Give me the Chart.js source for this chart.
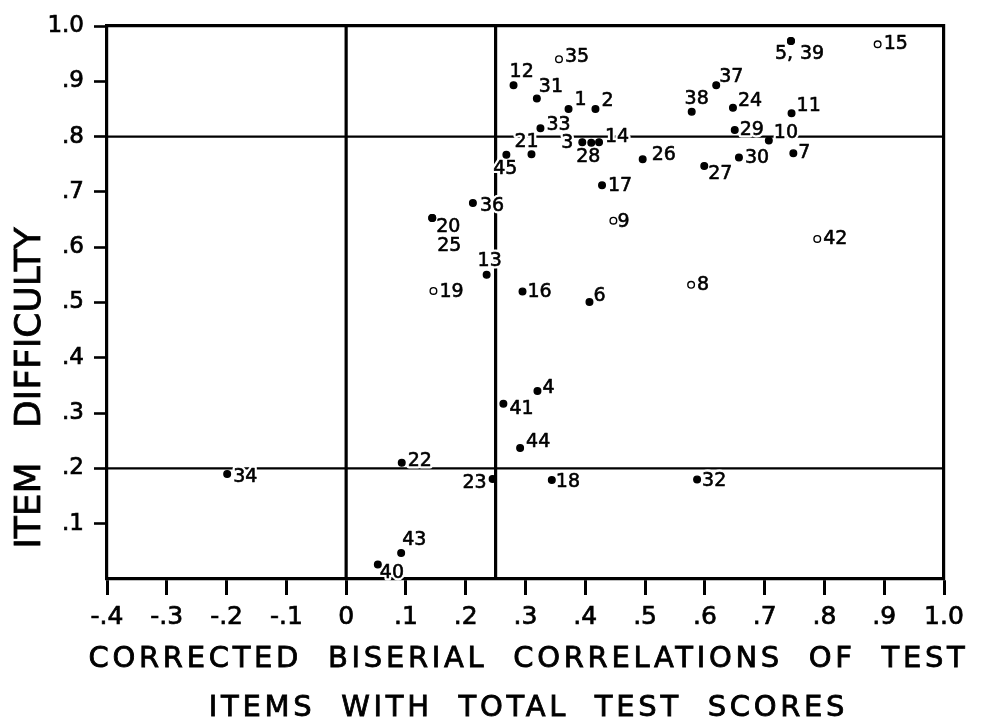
<!DOCTYPE html>
<html>
<head>
<meta charset="utf-8">
<script src="https://cdn.jsdelivr.net/npm/chart.js@4/dist/chart.umd.min.js"></script>
<style>
  html, body { margin: 0; padding: 0; background: #fff; overflow: hidden; }
  #wrap { width: 984px; height: 719px; }
</style>
</head>
<body>
<div id="wrap"><canvas id="c" width="984" height="719"></canvas></div>
<script>
// ---- data ----
const itemNumbers = [1,2,3,4,5,6,7,8,9,10,11,12,13,14,15,16,17,18,19,20,21,22,23,24,25,26,27,28,29,30,31,32,33,34,35,36,37,38,39,40,41,42,43,44,45];
const correlations = [0.372,0.417,0.395,0.320,0.744,0.407,0.748,0.577,0.447,0.707,0.745,0.280,0.235,0.423,0.889,0.295,0.428,0.344,0.146,0.144,0.310,0.093,0.245,0.647,0.144,0.496,0.599,0.410,0.650,0.657,0.319,0.587,0.325,-0.199,0.356,0.212,0.619,0.578,0.744,0.053,0.263,0.788,0.092,0.291,0.268];
const difficulties = [0.850,0.850,0.790,0.340,0.973,0.501,0.770,0.532,0.648,0.793,0.842,0.893,0.550,0.790,0.967,0.520,0.712,0.179,0.521,0.653,0.768,0.210,0.181,0.852,0.653,0.759,0.747,0.789,0.812,0.762,0.869,0.180,0.815,0.190,0.940,0.680,0.893,0.845,0.973,0.026,0.317,0.615,0.047,0.237,0.767];
const openCircleItems = [35,15,19,42,8,9];
const xRange = [-0.4, 1.0];
const yRange = [0, 1.0];
const xTickValues = [-0.4,-0.3,-0.2,-0.1,0,0.1,0.2,0.3,0.4,0.5,0.6,0.7,0.8,0.9,1.0];
const xTickLabels = ['-.4','-.3','-.2','-.1','0','.1','.2','.3','.4','.5','.6','.7','.8','.9','1.0'];
const yTickValues = [0.1,0.2,0.3,0.4,0.5,0.6,0.7,0.8,0.9,1.0];
const yTickLabels = ['.1','.2','.3','.4','.5','.6','.7','.8','.9','1.0'];
const refXValues = [0, 0.25];
const refYValues = [0.2, 0.8];
const xTitle = ['CORRECTED  BISERIAL  CORRELATIONS  OF  TEST', 'ITEMS  WITH  TOTAL  TEST  SCORES'];
const yTitle = 'ITEM   DIFFICULTY';

// ---- label placement (style only): [dx, dy, align] ----
const labelPlacement = {
  1:[6,-9,'l'], 2:[6,-8,'l'], 3:[-9,1,'r'], 4:[5,-3,'l'], 5:[-7,13,'c'], 6:[4,-6,'l'],
  7:[5,0,'l'], 8:[6,0,'l'], 9:[4,1,'l'], 10:[5,-7,'l'], 11:[5,-7,'l'], 12:[-4,-13,'l'],
  13:[3,-14,'c'], 14:[6,-5,'l'], 15:[6,0,'l'], 16:[5,1,'l'], 17:[6,1,'l'], 18:[4,2,'l'],
  19:[6,1,'l'], 20:[4,9,'l'], 21:[-5,-12,'c'], 22:[6,-2,'l'], 23:[-6,4,'r'], 24:[5,-7,'l'],
  25:[5,28,'l'], 26:[9,-4,'l'], 27:[4,8,'l'], 28:[-3,14,'c'], 29:[5,0,'l'], 30:[6,0,'l'],
  31:[2,-11,'l'], 32:[5,2,'l'], 33:[6,-3,'l'], 34:[6,3,'l'], 35:[6,-2,'l'], 36:[7,3,'l'],
  37:[3,-8,'l'], 38:[5,-13,'c'], 39:[9,13,'l'], 40:[2,8,'l'], 41:[6,5,'l'], 42:[6,0,'l'],
  43:[1,-13,'l'], 44:[6,-6,'l'], 45:[-1,14,'c']
};
const labelTextOverride = { 5: '5,' };

const FONT = '"DejaVu Sans", "Liberation Sans", sans-serif';

const points = itemNumbers.map((n, i) => ({ x: correlations[i], y: difficulties[i] }));
const pointFill = itemNumbers.map(n => openCircleItems.includes(n) ? '#fff' : '#000');

const refDatasets = [];
refXValues.forEach(v => refDatasets.push({
  type: 'scatter', showLine: true, data: [{x: v, y: yRange[0]}, {x: v, y: yRange[1]}],
  borderColor: '#000', borderWidth: 3.2, pointRadius: 0, order: 2, clip: false
}));
refYValues.forEach(v => refDatasets.push({
  type: 'scatter', showLine: true, data: [{x: xRange[0], y: v}, {x: xRange[1], y: v}],
  borderColor: '#000', borderWidth: 2.4, pointRadius: 0, order: 2, clip: false
}));

const labelPlugin = {
  id: 'itemLabels',
  beforeDatasetDraw(chart, args) {
    if (args.index !== 0) return;
    const ctx = chart.ctx;
    ctx.save();
    ctx.font = '19px ' + FONT;
    ctx.textBaseline = 'middle';
    ctx.lineJoin = 'round';
    args.meta.data.forEach((pt, i) => {
      const item = itemNumbers[i];
      const pl = labelPlacement[item] || [6, 0, 'l'];
      const text = labelTextOverride[item] || String(item);
      ctx.textAlign = pl[2] === 'l' ? 'left' : (pl[2] === 'r' ? 'right' : 'center');
      const x = pt.x + pl[0], y = pt.y + pl[1];
      ctx.strokeStyle = '#fff';
      ctx.lineWidth = 5;
      ctx.strokeText(text, x, y);
      ctx.fillStyle = '#000';
      ctx.fillText(text, x, y);
      ctx.strokeStyle = '#000';
      ctx.lineWidth = 0.6;
      ctx.strokeText(text, x, y);
    });
    ctx.restore();
  }
};

const titlePlugin = {
  id: 'axisTitles',
  afterDraw(chart) {
    const ctx = chart.ctx, area = chart.chartArea;
    ctx.save();
    ctx.fillStyle = '#000';
    ctx.strokeStyle = '#000';
    ctx.lineWidth = 0.8;
    ctx.textAlign = 'center';
    ctx.textBaseline = 'middle';
    // x-axis title (two lines)
    ctx.font = '29px ' + FONT;
    try { ctx.letterSpacing = '3.7px'; } catch (e) {}
    const cx = (area.left + area.right) / 2 + 3;
    xTitle.forEach((line, i) => {
      const y = area.bottom + 80 + i * 49;
      ctx.fillText(line, cx, y);
      ctx.strokeText(line, cx, y);
    });
    // y-axis title (rotated)
    try { ctx.letterSpacing = '0px'; } catch (e) {}
    ctx.font = '36px ' + FONT;
    ctx.translate(30.5, 388);
    ctx.rotate(-Math.PI / 2);
    ctx.fillText(yTitle, 0, 0);
    ctx.strokeText(yTitle, 0, 0);
    ctx.restore();
  }
};

new Chart(document.getElementById('c'), {
  type: 'scatter',
  data: {
    datasets: [
      {
        label: 'Items',
        data: points,
        pointRadius: 3.3,
        pointHoverRadius: 3.3,
        pointBackgroundColor: pointFill,
        pointBorderColor: '#000',
        pointBorderWidth: 1.4,
        order: 0
      },
      ...refDatasets
    ]
  },
  plugins: [labelPlugin, titlePlugin],
  options: {
    responsive: false,
    animation: false,
    events: [],
    layout: { padding: { top: 26, right: 40, left: 0, bottom: 0 } },
    plugins: { legend: { display: false }, tooltip: { enabled: false } },
    scales: {
      x: {
        type: 'linear', position: 'bottom', min: xRange[0], max: xRange[1],
        afterBuildTicks: s => { s.ticks = xTickValues.map(v => ({ value: v })); },
        afterFit: s => { s.height = 140; },
        ticks: {
          autoSkip: false, maxRotation: 0, padding: 7, color: '#000',
          font: { family: FONT, size: 25 },
          textStrokeColor: '#000', textStrokeWidth: 0.7,
          callback: (v, i) => xTickLabels[i]
        },
        grid: { drawOnChartArea: false, drawTicks: true, tickLength: 16, tickWidth: 3, tickColor: '#000' },
        border: { display: true, width: 3.2, color: '#000' },
        title: { display: false }
      },
      y: {
        type: 'linear', position: 'left', min: yRange[0], max: yRange[1],
        afterBuildTicks: s => { s.ticks = yTickValues.map(v => ({ value: v })); },
        afterFit: s => { s.width = 107; },
        ticks: {
          autoSkip: false, padding: 10, color: '#000',
          font: { family: FONT, size: 23 },
          textStrokeColor: '#000', textStrokeWidth: 0.7,
          callback: (v, i) => yTickLabels[i]
        },
        grid: { drawOnChartArea: false, drawTicks: true, tickLength: 13, tickWidth: 2.6, tickColor: '#000' },
        border: { display: true, width: 3.2, color: '#000' },
        title: { display: false }
      },
      xTop: {
        type: 'linear', position: 'top', min: xRange[0], max: xRange[1], display: true,
        ticks: { display: false },
        grid: { drawOnChartArea: false, drawTicks: false },
        border: { display: true, width: 3.2, color: '#000' },
        afterFit: s => { s.height = 0; }
      },
      yRight: {
        type: 'linear', position: 'right', min: yRange[0], max: yRange[1], display: true,
        ticks: { display: false },
        grid: { drawOnChartArea: false, drawTicks: false },
        border: { display: true, width: 3.2, color: '#000' },
        afterFit: s => { s.width = 0; }
      }
    }
  }
});
</script>
</body>
</html>
